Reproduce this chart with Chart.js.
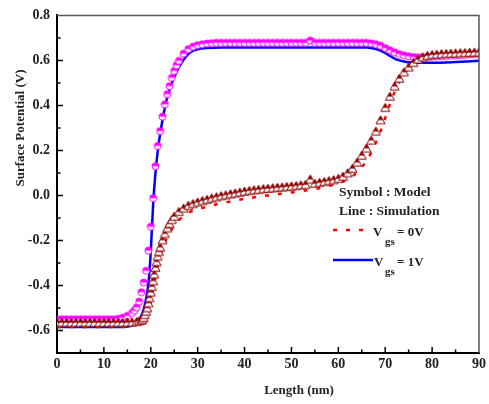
<!DOCTYPE html>
<html>
<head>
<meta charset="utf-8">
<script src="https://cdn.jsdelivr.net/npm/chart.js@4.4.1/dist/chart.umd.min.js"></script>
<style>
  html, body { margin: 0; padding: 0; background: #fff; }
  #wrap { width: 489px; height: 404px; }
</style>
</head>
<body>
<div id="wrap"><canvas id="potentialChart" width="489" height="404"></canvas></div>
<script>
// tick labels
var xTicks = [0, 10, 20, 30, 40, 50, 60, 70, 80, 90];
var yTicks = [-0.6, -0.4, -0.2, 0.0, 0.2, 0.4, 0.6, 0.8];

// Simulation, Vgs = 1V (blue line)
var sim1X = [0, 5, 10, 14, 16, 17, 18, 18.5, 19, 19.5, 20, 20.5, 21, 21.5, 22, 22.5, 23, 23.5, 24, 24.5, 25, 26, 27, 28, 29, 30, 32, 35, 40, 50, 60, 66, 67, 68, 69, 70, 71, 72, 73, 74, 75, 77, 80, 85, 90];
var sim1Y = [-0.585, -0.585, -0.585, -0.584, -0.578, -0.566, -0.535, -0.505, -0.46, -0.39, -0.25, -0.04, 0.1, 0.2, 0.275, 0.335, 0.39, 0.435, 0.47, 0.5, 0.525, 0.57, 0.603, 0.628, 0.643, 0.65, 0.655, 0.657, 0.657, 0.657, 0.657, 0.657, 0.655, 0.651, 0.644, 0.633, 0.62, 0.608, 0.6, 0.595, 0.592, 0.59, 0.59, 0.593, 0.598];

// Simulation, Vgs = 0V (red dotted line)
var sim0X = [0, 5, 10, 14, 16, 17, 18, 19, 19.5, 20, 20.5, 21, 21.5, 22, 23, 24, 25, 26, 28, 30, 32, 35, 40, 45, 50, 55, 58, 60, 62, 64, 65, 66, 67, 68, 69, 70, 71, 72, 73, 74, 75, 76, 77, 78, 80, 85, 90];
var sim0Y = [-0.585, -0.585, -0.585, -0.584, -0.58, -0.574, -0.56, -0.535, -0.51, -0.47, -0.42, -0.365, -0.315, -0.275, -0.21, -0.165, -0.135, -0.11, -0.077, -0.062, -0.05, -0.035, -0.015, 0.0, 0.013, 0.029, 0.042, 0.055, 0.072, 0.102, 0.125, 0.155, 0.19, 0.235, 0.285, 0.345, 0.405, 0.46, 0.505, 0.54, 0.567, 0.588, 0.602, 0.61, 0.616, 0.619, 0.623];

// Model, Vgs = 1V (magenta circles)
var mod1X = [0, 1, 2, 3, 4, 5, 6, 7, 8, 9, 10, 11, 12, 13, 14, 15, 16,
  16.5, 17, 17.5, 18, 18.5, 19, 19.5, 20, 20.5, 21, 21.5, 22, 22.5, 23, 23.5, 24, 24.5, 25, 25.5, 26,
  27, 28, 29, 30, 31, 32, 33, 34, 35, 36, 37, 38, 39, 40, 41, 42, 43, 44, 45, 46, 47, 48, 49, 50,
  51, 52, 53, 54, 55, 56, 57, 58, 59, 60, 61, 62, 63, 64, 65, 66, 67, 68, 69, 70,
  71, 72, 73, 74, 75, 76, 77, 78, 79, 80, 81, 82, 83, 84, 85, 86, 87, 88, 89, 90];
var mod1Y = [-0.55, -0.55, -0.55, -0.55, -0.55, -0.55, -0.55, -0.55, -0.55, -0.55, -0.55, -0.55, -0.55, -0.548, -0.543, -0.535, -0.522,
  -0.512, -0.497, -0.472, -0.43, -0.387, -0.335, -0.245, -0.139, -0.012, 0.13, 0.22, 0.286, 0.35, 0.405, 0.45, 0.486, 0.523, 0.553, 0.578, 0.598,
  0.63, 0.65, 0.661, 0.668, 0.672, 0.675, 0.677, 0.678, 0.678, 0.678, 0.678, 0.678, 0.678, 0.678, 0.678, 0.678, 0.678, 0.678, 0.678, 0.678, 0.678, 0.678, 0.678, 0.678,
  0.678, 0.678, 0.678, 0.688, 0.678, 0.678, 0.678, 0.678, 0.678, 0.678, 0.678, 0.678, 0.678, 0.678, 0.678, 0.678, 0.676, 0.672, 0.665, 0.655,
  0.645, 0.636, 0.628, 0.622, 0.618, 0.615, 0.614, 0.614, 0.615, 0.616, 0.617, 0.618, 0.619, 0.62, 0.622, 0.623, 0.624, 0.626, 0.627, 0.629];

// Model, Vgs = 0V (dark red triangles)
var mod0X = [0, 1, 2, 3, 4, 5, 6, 7, 8, 9, 10, 11, 12, 13, 14, 15, 16, 17,
  17.5, 18, 18.25, 18.5, 18.75, 19, 19.25, 19.5, 19.75, 20, 20.25, 20.5, 20.75, 21, 21.25, 21.5, 21.75, 22, 22.5, 23, 23.5, 24, 24.5, 25,
  26, 27, 28, 29, 30, 31, 32, 33, 34, 35, 36, 37, 38, 39, 40, 41, 42, 43, 44, 45, 46, 47, 48, 49, 50,
  51, 52, 53, 54, 55, 56, 57, 58, 59, 60, 61, 62, 63, 64, 65, 66, 67, 68, 69, 70,
  71, 72, 73, 74, 75, 76, 77, 78, 79, 80, 81, 82, 83, 84, 85, 86, 87, 88, 89, 90];
var mod0Y = [-0.565, -0.565, -0.565, -0.565, -0.565, -0.565, -0.565, -0.565, -0.565, -0.565, -0.565, -0.565, -0.565, -0.565, -0.565, -0.564, -0.563, -0.561,
  -0.558, -0.555, -0.55, -0.543, -0.53, -0.515, -0.5, -0.478, -0.455, -0.43, -0.405, -0.38, -0.35, -0.32, -0.295, -0.27, -0.25, -0.23, -0.198, -0.17, -0.145, -0.125, -0.108, -0.093,
  -0.072, -0.057, -0.045, -0.037, -0.03, -0.024, -0.018, -0.012, -0.007, -0.002, 0.002, 0.006, 0.01, 0.014, 0.018, 0.021, 0.024, 0.026, 0.029, 0.031, 0.033, 0.035, 0.037, 0.039, 0.041,
  0.043, 0.046, 0.048, 0.072, 0.053, 0.057, 0.061, 0.065, 0.069, 0.075, 0.085, 0.1, 0.12, 0.147, 0.178, 0.21, 0.245, 0.285, 0.335, 0.39,
  0.44, 0.485, 0.52, 0.548, 0.57, 0.59, 0.605, 0.615, 0.621, 0.625, 0.627, 0.629, 0.63, 0.631, 0.632, 0.633, 0.634, 0.635, 0.636, 0.637];

var FONT = "'Liberation Serif', 'Times New Roman', serif";
var MAGENTA = '#ff00ff', DARKRED = '#8b0000', RED = '#ff0000', BLUE = '#0000ff';

function pairs(xs, ys) {
    return xs.map(function (x, i) { return {x: x, y: ys[i]}; });
}

// half filled circle marker
function circleMark() {
    var c = document.createElement('canvas');
    c.width = 9; c.height = 9;
    var g = c.getContext('2d');
    g.beginPath(); g.arc(4.5, 4.5, 3.5, 0, 2 * Math.PI); g.fillStyle = '#fff'; g.fill();
    g.beginPath(); g.arc(4.5, 4.5, 3.5, Math.PI, 2 * Math.PI); g.closePath(); g.fillStyle = MAGENTA; g.fill();
    g.beginPath(); g.arc(4.5, 4.5, 3.5, 0, 2 * Math.PI); g.strokeStyle = MAGENTA; g.lineWidth = 1; g.stroke();
    return c;
}

// half filled up triangle marker
function triangleMark() {
    var c = document.createElement('canvas');
    c.width = 11; c.height = 11;
    var g = c.getContext('2d');
    function tri() { g.beginPath(); g.moveTo(5.5, 1.2); g.lineTo(10, 9.2); g.lineTo(1, 9.2); g.closePath(); }
    tri(); g.fillStyle = '#fff'; g.fill();
    g.save(); tri(); g.clip(); g.fillStyle = DARKRED; g.fillRect(0, 0, 11, 5.6); g.restore();
    tri(); g.strokeStyle = DARKRED; g.lineWidth = 1; g.stroke();
    return c;
}

// frame, inward ticks, axis titles and the text legend
var decor = {
    id: 'decor',
    afterDraw: function (chart) {
        var ctx = chart.ctx, a = chart.chartArea, x = chart.scales.x, y = chart.scales.y;
        ctx.save();
        ctx.strokeStyle = '#555';
        ctx.lineWidth = 1.5;
        ctx.beginPath();
        ctx.moveTo(a.left, a.top); ctx.lineTo(a.right, a.top); ctx.lineTo(a.right, a.bottom);
        ctx.stroke();

        ctx.strokeStyle = '#000';
        ctx.lineWidth = 1.5;
        ctx.beginPath();
        for (var v = 5; v <= 85; v += 5) {
            var px = x.getPixelForValue(v);
            var len = v % 10 === 0 ? 6 : 3.5;
            ctx.moveTo(px, a.bottom); ctx.lineTo(px, a.bottom - len);
        }
        for (var k = -6; k <= 7; k++) {
            var py = y.getPixelForValue(k / 10);
            var l2 = k % 2 === 0 ? 6 : 3.5;
            ctx.moveTo(a.left, py); ctx.lineTo(a.left + l2, py);
        }
        ctx.stroke();

        ctx.fillStyle = '#222';
        ctx.font = 'bold 13px ' + FONT;
        ctx.textAlign = 'center';
        ctx.textBaseline = 'middle';
        ctx.fillText('Length (nm)', 299, 391);
        ctx.save();
        ctx.translate(21, 128);
        ctx.rotate(-Math.PI / 2);
        ctx.fillText('Surface Potential (V)', 0, 0);
        ctx.restore();

        ctx.textAlign = 'left';
        ctx.textBaseline = 'alphabetic';
        ctx.font = 'bold 13.5px ' + FONT;
        ctx.fillText('Symbol : Model', 339, 196);
        ctx.fillText('Line : Simulation', 339, 215);

        ctx.lineWidth = 2.5;
        ctx.strokeStyle = RED;
        ctx.setLineDash([4, 9]);
        ctx.beginPath(); ctx.moveTo(333, 230); ctx.lineTo(368, 230); ctx.stroke();
        ctx.setLineDash([]);
        ctx.strokeStyle = BLUE;
        ctx.beginPath(); ctx.moveTo(333, 260); ctx.lineTo(373, 260); ctx.stroke();

        ctx.font = 'bold 13px ' + FONT;
        ctx.fillText('V', 373, 236);
        ctx.fillText('= 0V', 397, 236);
        ctx.fillText('V', 374, 266);
        ctx.fillText('= 1V', 397, 266);
        ctx.font = 'bold 11px ' + FONT;
        ctx.fillText('gs', 385, 245);
        ctx.fillText('gs', 385, 275);
        ctx.restore();
    }
};

var potentialChart = new Chart(document.getElementById('potentialChart').getContext('2d'), {
    type: 'line',
    data: {
        datasets: [{
            label: 'Vgs = 0V simulation',
            data: pairs(sim0X, sim0Y),
            borderColor: RED,
            borderWidth: 2.5,
            borderDash: [4, 9],
            pointRadius: 0,
            cubicInterpolationMode: 'monotone',
            fill: false,
            order: 3
        }, {
            label: 'Vgs = 1V simulation',
            data: pairs(sim1X, sim1Y),
            borderColor: BLUE,
            borderWidth: 2.5,
            pointRadius: 0,
            cubicInterpolationMode: 'monotone',
            fill: false,
            order: 3
        }, {
            label: 'Vgs = 0V model',
            data: pairs(mod0X, mod0Y),
            showLine: false,
            pointStyle: triangleMark(),
            pointRadius: 5,
            order: 1
        }, {
            label: 'Vgs = 1V model',
            data: pairs(mod1X, mod1Y),
            showLine: false,
            pointStyle: circleMark(),
            pointRadius: 4,
            order: 2
        }]
    },
    options: {
        responsive: false,
        animation: false,
        devicePixelRatio: 1,
        events: [],
        layout: { padding: { top: 9, right: 10, left: 0, bottom: 0 } },
        plugins: { legend: { display: false }, tooltip: { enabled: false } },
        scales: {
            x: {
                type: 'linear',
                min: 0,
                max: 90,
                afterFit: function (s) { s.height = 51; },
                afterBuildTicks: function (s) { s.ticks = xTicks.map(function (v) { return {value: v}; }); },
                grid: { drawOnChartArea: false, drawTicks: false },
                border: { color: '#000', width: 2 },
                ticks: {
                    padding: 3,
                    color: '#222',
                    font: { family: FONT, size: 14, weight: 'bold' },
                    callback: function (v) { return String(v); }
                }
            },
            y: {
                type: 'linear',
                min: -0.7,
                max: 0.8,
                afterFit: function (s) { s.width = 57; },
                afterBuildTicks: function (s) { s.ticks = yTicks.map(function (v) { return {value: v}; }); },
                grid: { drawOnChartArea: false, drawTicks: false },
                border: { color: '#000', width: 2 },
                ticks: {
                    padding: 7,
                    color: '#222',
                    font: { family: FONT, size: 14, weight: 'bold' },
                    callback: function (v) { return Number(v).toFixed(1); }
                }
            }
        }
    },
    plugins: [decor]
});
</script>
</body>
</html>
